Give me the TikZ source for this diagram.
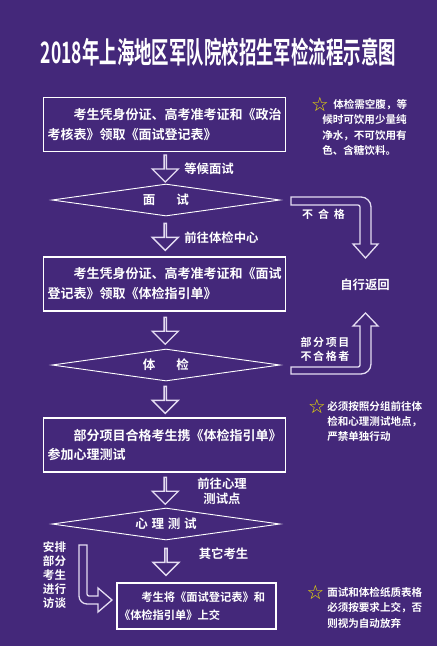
\documentclass[tikz,border=0pt]{standalone}
\usepackage{fontspec}
\usepackage{graphicx}
\setmainfont{Noto Sans CJK SC}[BoldFont={Noto Sans CJK SC Bold}]
\newfontfamily\symfont{DejaVu Sans}
\usetikzlibrary{shapes.geometric, shapes.arrows, calc}

\newdimen\px
\px=0.025cm

\definecolor{bgpurple}{HTML}{44287A}
\definecolor{arrowline}{HTML}{E4DCF2}
\definecolor{staryellow}{HTML}{F2E400}

\newcommand\stepfont{\bfseries\fontsize{9.25}{14.2}\selectfont}
\newcommand\notesfont{\bfseries\fontsize{7.5}{11}\selectfont}
\newcommand\tagfont{\bfseries\fontsize{8.8}{10.7}\selectfont}

\tikzset{
  stepbox/.style={
    draw=white,
    line width=1.6\px,
    minimum width=242\px,
    minimum height=54\px,
    inner sep=0pt,
    text width=234\px,
    align=left,
    text=white,
    font=\stepfont
  },
%
  choice/.style={
    diamond,
    aspect=7.1,
    draw=white,
    line width=0.9\px,
    minimum width=228\px,
    minimum height=32\px,
    inner sep=0pt,
    text=white,
    font=\bfseries\fontsize{8.9}{10}\selectfont
  },
%
  downarrow/.style={
    single arrow,
    shape border rotate=270,
    draw=arrowline,
    line width=1.3\px,
    inner sep=0pt,
    minimum width=26\px,
    minimum height=27\px,
    single arrow head extend=7\px
  },
%
  bentarrow/.style={
    draw=arrowline,
    line width=1.3\px,
    line join=miter
  },
%
  tag/.style={
    text=white,
    inner sep=0pt,
    font=\tagfont
  },
%
  note/.style={
    text=white,
    inner sep=0pt,
    align=left,
    font=\notesfont
  },
%
  notestar/.style={
    text=staryellow,
    inner sep=0pt,
    font=\symfont\bfseries\fontsize{14}{14}\selectfont
  },
}

\begin{document}
\begin{tikzpicture}[x=\px, y=-\px]

\fill[bgpurple] (0,0) rectangle (437,646);
\useasboundingbox (0,0) rectangle (437,646);

\node[text=white, inner sep=0pt, font=\bfseries\fontsize{21}{24}\selectfont] at (218.5,52) (title) {\resizebox{355\px}{\height}{2018年上海地区军队院校招生军检流程示意图}};

% main column
\node[stepbox] at (164.5,124.5) (form1) {\hspace*{2em}考生凭身份证、高考准考证和《政治\\考核表》领取《面试登记表》};
\node[choice] at (166,200) (interview) {面\hspace{21\px}试};
\node[stepbox] at (164.5,284) (form2) {\hspace*{2em}考生凭身份证、高考准考证和《面试\\登记表》领取《体检指引单》};
\node[choice] at (166,365) (physical) {体\hspace{21\px}检};
\node[stepbox] at (164.5,445) (form3) {\hspace*{2em}部分项目合格考生携《体检指引单》\\参加心理测试};
\node[choice] at (166,524) (psych) {心\hspace{3.7\px}理\hspace{3.7\px}测\hspace{3.7\px}试};
\node[stepbox, minimum width=159\px, minimum height=46\px, text width=155\px, font=\bfseries\fontsize{8}{12.8}\selectfont] at (196.5,606) (submit) {\hspace*{2em}考生将《面试登记表》和\\《体检指引单》上交};

% arrows between steps
\node[downarrow] at ($(form1.south)!0.5!(interview.north)$) (arr1) {};
\node[downarrow] at ($(interview.south)!0.5!(form2.north)$) (arr2) {};
\node[downarrow] at ($(form2.south)!0.5!(physical.north)$) (arr3) {};
\node[downarrow] at ($(physical.south)!0.5!(form3.north)$) (arr4) {};
\node[downarrow] at ($(form3.south)!0.5!(psych.north)$) (arr5) {};
\node[downarrow] at ($(psych.south)!0.5!(psych.south|-submit.north)$) (arr6) {};

\node[tag, anchor=west] at (184,169) (waitlab) {等候面试};
\node[tag, anchor=west] at (184,238) (golab) {前往体检中心};
\node[tag, align=center] at (222,491) (psylab) {前往心理\\测试点};
\node[tag] at (223.5,554) (otherlab) {其它考生};

% side routes
\draw[bentarrow] (291,197) [rounded corners=10\px]-- (371,197) [sharp corners]-- (371,244) -- (378,244) -- (365.5,258) -- (353,244) -- (360,244) [rounded corners=2\px]-- (360,205) [sharp corners]-- (291,205) -- cycle;
\draw[bentarrow] (291,374) [rounded corners=10\px]-- (371,374) [sharp corners]-- (371,326) -- (378,326) -- (365.5,313) -- (353,326) -- (360,326) [rounded corners=2\px]-- (360,367) [sharp corners]-- (291,367) -- cycle;
\draw[bentarrow] (98,604) [rounded corners=8\px]-- (79,604) [sharp corners]-- (79,545) -- (87,545) [rounded corners=2\px]-- (87,596) [sharp corners]-- (98,596) -- (98,588) -- (112,600) -- (98,612) -- cycle;

\node[tag, font=\bfseries\fontsize{7.8}{10}\selectfont] at (323.5,214) (faillab) {不\hspace{5\px}合\hspace{5\px}格};
\node[tag] at (365,285) (backlab) {自行返回};
\node[tag, align=center, font=\bfseries\fontsize{7.8}{10}\selectfont\addfontfeature{LetterSpace=15}] at (325,349) (partlab) {部分项目\\不合格者};
\node[tag, align=center, font=\bfseries\fontsize{8.2}{10}\selectfont] at (54.5,575) (talklab) {安排\\部分\\考生\\进行\\访谈};

% notes
\node[notestar] at (320,104) (star1) {☆};
\node[note, anchor=north west] at (322,98.7) (note1) {\hspace*{11\px}体检需空腹，等\\候时可饮用少量纯\\净水，不可饮用有\\色、含糖饮料。};
\node[notestar] at (317,406) (star2) {☆};
\node[note, anchor=north west] at (327,400.7) (note2) {必须按照分组前往体\\检和心理测试地点，\\严禁单独行动};
\node[notestar] at (315.5,592) (star3) {☆};
\node[note, anchor=north west] at (327,586.7) (note3) {面试和体检纸质表格\\必须按要求上交，否\\则视为自动放弃};

\end{tikzpicture}
\end{document}
